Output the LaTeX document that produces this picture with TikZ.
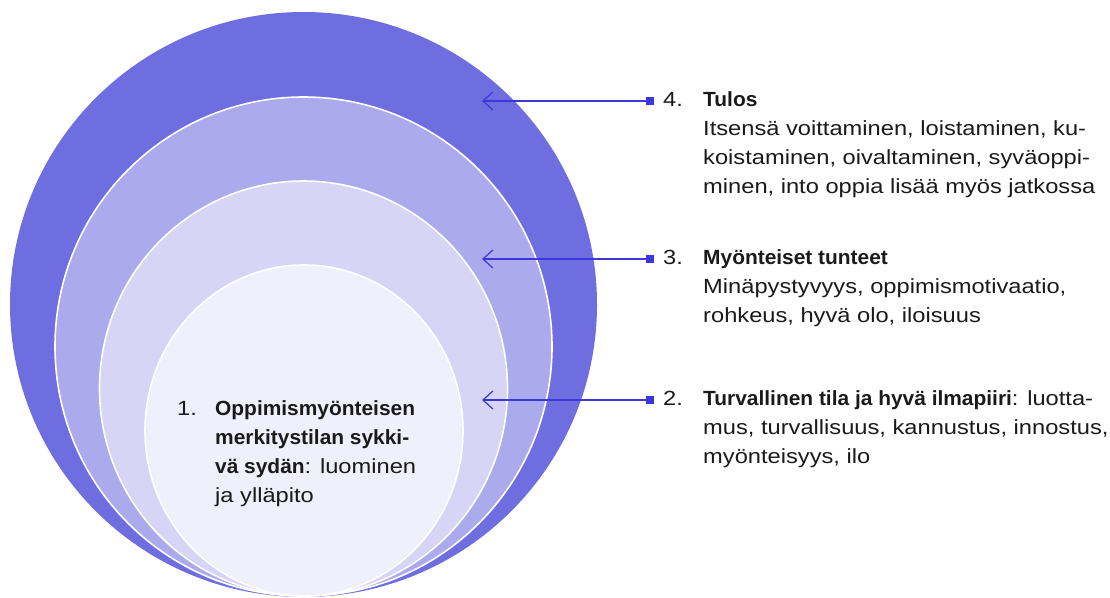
\documentclass[tikz,border=0pt]{standalone}
\usepackage{fontspec}
\setmainfont{Liberation Sans}[UprightFeatures={FakeStretch=1.155}, BoldFeatures={FakeStretch=1.02}]
\usetikzlibrary{arrows.meta}
\definecolor{ringA}{HTML}{6F6EE1}
\definecolor{ringB}{HTML}{ABAAEC}
\definecolor{ringC}{HTML}{D6D5F5}
\definecolor{ringD}{HTML}{F0EFFC}
\definecolor{arrowblue}{HTML}{3B37DA}
\definecolor{ink}{HTML}{1A1A1A}
\tikzset{
  ringline/.style={draw=white, line width=1.6pt},
  pointer/.style={draw=arrowblue, line width=1.4pt,
    -{Straight Barb[length=10pt,width=18pt,line width=1.2pt]}},
  marker/.style={fill=arrowblue, inner sep=0pt, minimum size=8pt},
  txt/.style={anchor=base west, inner sep=0pt, text=ink,
    font=\fontsize{20.5}{29}\selectfont},
}
\begin{document}
\begin{tikzpicture}[x=1pt,y=-1pt]
\useasboundingbox (0,0) rectangle (1110,597);
% nested rings
\fill[ringA] (303.5,304.5) ellipse [x radius=293.5, y radius=292.5];
\filldraw[fill=ringB, ringline] (303.5,346.5) ellipse [x radius=248.5, y radius=249.5];
\filldraw[fill=ringC, ringline] (303.5,388.5) ellipse [x radius=204, y radius=207.5];
\filldraw[fill=ringD, ringline] (304,430.5) ellipse [x radius=159, y radius=165.5];

% markers and arrow tips
\node[marker] (s4) at (650,101) {};
\node[marker] (s3) at (650,259) {};
\node[marker] (s2) at (650,400) {};
\coordinate (t4) at (482,101);
\coordinate (t3) at (482,259);
\coordinate (t2) at (482,400);
\draw[pointer] (s4.center) -- (t4);
\draw[pointer] (s3.center) -- (t3);
\draw[pointer] (s2.center) -- (t2);
\node[marker] at (s4) {};
\node[marker] at (s3) {};
\node[marker] at (s2) {};

% texts
\node[txt] (n4) at (663,106) {4.};
\node[txt] (l4) at (703,106) {\begin{tabular}[t]{@{}l@{}}\textbf{Tulos}\\
Itsensä voittaminen, loistaminen, ku-\\
koistaminen, oivaltaminen, syväoppi-\\
minen, into oppia lisää myös jatkossa\end{tabular}};

\node[txt] (n3) at (663,264) {3.};
\node[txt] (l3) at (703,264) {\begin{tabular}[t]{@{}l@{}}\textbf{Myönteiset tunteet}\\
Minäpystyvyys, oppimismotivaatio,\\
rohkeus, hyvä olo, iloisuus\end{tabular}};

\node[txt] (n2) at (663,405) {2.};
\node[txt] (l2) at (703,405) {\begin{tabular}[t]{@{}l@{}}\textbf{Turvallinen tila ja hyvä ilmapiiri}: luotta-\\
mus, turvallisuus, kannustus, innostus,\\
myönteisyys, ilo\end{tabular}};

\node[txt] (n1) at (177,415) {1.};
\node[txt] (l1) at (215,415) {\begin{tabular}[t]{@{}l@{}}\textbf{Oppimismyönteisen}\\
\textbf{merkitystilan sykki-}\\
\textbf{vä sydän}: luominen\\
ja ylläpito\end{tabular}};
\end{tikzpicture}
\end{document}
